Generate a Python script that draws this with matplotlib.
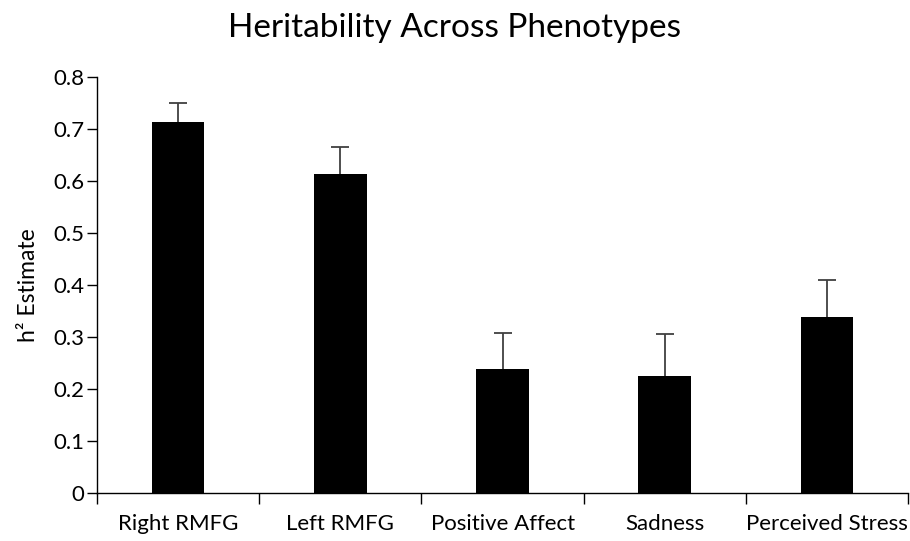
import matplotlib.pyplot as plt
import numpy as np

# data
phenotypes = ['Right RMFG', 'Left RMFG', 'Positive Affect', 'Sadness', 'Perceived Stress']
h2 = [0.713, 0.614, 0.239, 0.225, 0.338]
h2_err = [0.037, 0.051, 0.069, 0.080, 0.071]

plt.rcParams['font.family'] = ['Lato', 'DejaVu Sans']

fig = plt.figure(figsize=(9.10, 5.41), dpi=100)
ax = fig.add_axes([0.1066, 0.0887, 0.8914, 0.769])

x = np.arange(len(phenotypes))
ax.bar(x, h2, width=0.325, color='black', zorder=2)
eb = ax.errorbar(x, h2, yerr=[np.zeros(len(h2)), h2_err], fmt='none',
                 ecolor='#404040', elinewidth=1.3, capsize=6.5, capthick=1.3, zorder=1)
# only the upper whisker is shown
eb[1][0].set_visible(False)

ax.set_xlim(-0.5, len(phenotypes) - 0.5)
ax.set_ylim(0, 0.8)
ax.set_yticks(np.arange(0, 0.81, 0.1))
ax.set_yticklabels(['0'] + ['%.1f' % v for v in np.arange(0.1, 0.81, 0.1)])

ax.set_xticks(x)
ax.set_xticklabels(phenotypes)
ax.set_xticks(np.arange(-0.5, len(phenotypes)), minor=True)
ax.tick_params(axis='x', which='major', length=0, pad=15, labelsize=16)
ax.tick_params(axis='x', which='minor', length=8, width=1, direction='out')
ax.tick_params(axis='y', length=7, width=1, direction='out', labelsize=16, pad=2)

for s in ['top', 'right']:
    ax.spines[s].set_visible(False)
for s in ['left', 'bottom']:
    ax.spines[s].set_color('black')
    ax.spines[s].set_linewidth(1)

ax.set_ylabel('h² Estimate', fontsize=16.5, labelpad=10)
fig.text(0.5, 0.948, 'Heritability Across Phenotypes', ha='center', va='center', fontsize=24)

fig.savefig('out.png', dpi=100)
